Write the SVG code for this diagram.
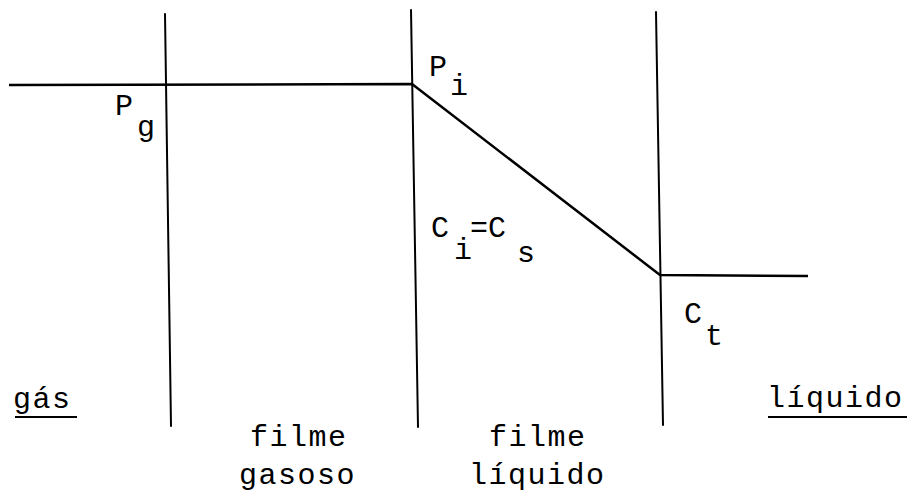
<svg xmlns="http://www.w3.org/2000/svg" width="912" height="497" viewBox="0 0 912 497">
<style>
.t{font-family:"Liberation Mono","Courier New",monospace;font-size:30px;fill:#000;letter-spacing:1.5px}
.c{font-family:"Liberation Mono","Courier New",monospace;font-size:30px;fill:#000}
.ln{stroke:#000;stroke-width:2;fill:none;stroke-linecap:round}
.pr{stroke:#000;stroke-width:2.5;fill:none;stroke-linejoin:round}
.ul{stroke:#000;stroke-width:2}
</style>
<rect width="912" height="497" fill="#fff"/>
<g id="connectors">
<line class="ln" x1="165" y1="14" x2="171" y2="426"/>
<line class="ln" x1="411" y1="10" x2="418" y2="427"/>
<line class="ln" x1="656" y1="12" x2="663" y2="425"/>
<polyline class="pr" points="9,85 412,84 660,275 808,276"/>
</g>
<g id="Pg"><text class="c" x="115" y="115">P</text><text class="c" x="137" y="136">g</text></g>
<g id="Pi"><text class="c" x="429" y="76">P</text><text class="c" x="450" y="95">i</text></g>
<g id="CiCs"><text class="c" x="431" y="237">C</text><text class="c" x="454" y="259">i</text><text class="c" x="470" y="237">=</text><text class="c" x="488" y="237">C</text><text class="c" x="517" y="262">s</text></g>
<g id="Ct"><text class="c" x="684" y="323">C</text><text class="c" x="705" y="345">t</text></g>
<g id="gas"><text class="t" x="13" y="408">gás</text><line class="ul" x1="15" y1="417" x2="77" y2="417"/></g>
<g id="liquido"><text class="t" x="767" y="407">líquido</text><line class="ul" x1="768" y1="417" x2="907" y2="417"/></g>
<g id="filme-gasoso"><text class="t" x="250" y="446">filme</text><text class="t" x="239" y="484">gasoso</text></g>
<g id="filme-liquido"><text class="t" x="489" y="446">filme</text><text class="t" x="469" y="484">líquido</text></g>
</svg>
